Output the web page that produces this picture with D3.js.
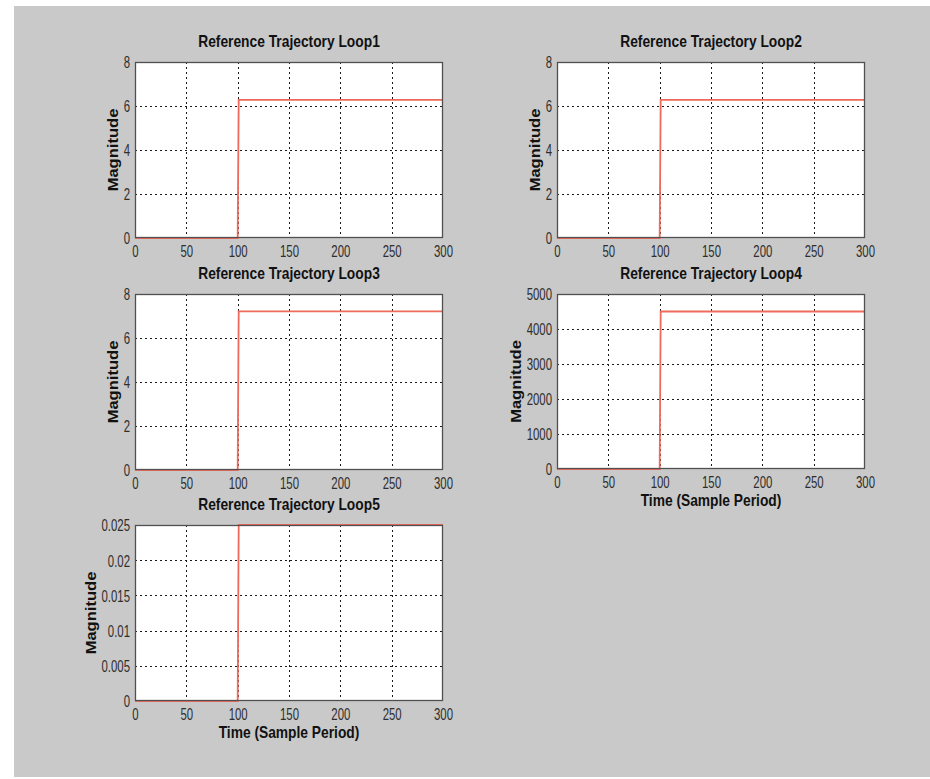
<!DOCTYPE html>
<html>
<head>
<meta charset="utf-8">
<script src="https://cdn.jsdelivr.net/npm/d3@7"></script>
<style>
  html, body { margin: 0; padding: 0; background: #ffffff; }
  svg { display: block; }
</style>
</head>
<body>
<svg id="chart" width="930" height="779"></svg>
<script>
// ---------------- data ----------------
const titles = ["Reference Trajectory Loop1", "Reference Trajectory Loop2", "Reference Trajectory Loop3",
                "Reference Trajectory Loop4", "Reference Trajectory Loop5"];
const time = [0, 100, 101, 300];                 // sample period
const loop1 = [0, 0, 6.28, 6.28];
const loop2 = [0, 0, 6.28, 6.28];
const loop3 = [0, 0, 7.21, 7.21];
const loop4 = [0, 0, 4500, 4500];
const loop5 = [0, 0, 0.025, 0.025];
const xTicks = [0, 50, 100, 150, 200, 250, 300];
const yTicks1 = [0, 2, 4, 6, 8];
const yTicks2 = [0, 2, 4, 6, 8];
const yTicks3 = [0, 2, 4, 6, 8];
const yTicks4 = [0, 1000, 2000, 3000, 4000, 5000];
const yTicks5 = [0, 0.005, 0.01, 0.015, 0.02, 0.025];
const yTickLabels5 = ["0", "0.005", "0.01", "0.015", "0.02", "0.025"];
const yLabel = "Magnitude";
const xLabel = "Time (Sample Period)";

// ---------------- layout ----------------
const panels = [
  { title: titles[0], values: loop1, yTicks: yTicks1, yFmt: d => String(d), left: 135, top: 62, w: 308, h: 176, xlab: false },
  { title: titles[1], values: loop2, yTicks: yTicks2, yFmt: d => String(d), left: 557, top: 62, w: 308, h: 176, xlab: false },
  { title: titles[2], values: loop3, yTicks: yTicks3, yFmt: d => String(d), left: 135, top: 294, w: 308, h: 176, xlab: false },
  { title: titles[3], values: loop4, yTicks: yTicks4, yFmt: d => String(d), left: 557, top: 294, w: 308, h: 175, xlab: true },
  { title: titles[4], values: loop5, yTicks: yTicks5, yFmt: (d, i) => yTickLabels5[i], left: 135, top: 525, w: 308, h: 176, xlab: true }
];

const svg = d3.select("#chart");
svg.append("rect").attr("x", 14).attr("y", 6).attr("width", 916).attr("height", 771).attr("fill", "#c9c9c9");

const tickFont = "Liberation Sans, Arial, sans-serif";
const labelFont = "Liberation Sans, Arial, sans-serif";

panels.forEach(p => {
  const g = svg.append("g").attr("transform", `translate(${p.left},${p.top})`);
  const x = d3.scaleLinear().domain([0, 300]).range([0, p.w]);
  const yMax = p.yTicks[p.yTicks.length - 1];
  const y = d3.scaleLinear().domain([0, yMax]).range([p.h, 0]);

  g.append("rect").attr("width", p.w).attr("height", p.h).attr("fill", "#ffffff");

  // grid
  g.append("g").selectAll("line.gx").data(xTicks.slice(1, -1)).join("line")
    .attr("x1", d => Math.round(x(d)) + 0.5).attr("x2", d => Math.round(x(d)) + 0.5)
    .attr("y1", 0).attr("y2", p.h)
    .attr("stroke", "#1a1a1a").attr("stroke-width", 1).attr("stroke-dasharray", "2,3");
  g.append("g").selectAll("line.gy").data(p.yTicks.slice(1, -1)).join("line")
    .attr("y1", d => Math.round(y(d)) + 0.5).attr("y2", d => Math.round(y(d)) + 0.5)
    .attr("x1", 0).attr("x2", p.w)
    .attr("stroke", "#1a1a1a").attr("stroke-width", 1).attr("stroke-dasharray", "2,3");

  // data line
  const line = d3.line().x((d, i) => x(time[i])).y(d => y(d));
  g.append("path").datum(p.values).attr("d", line)
    .attr("fill", "none").attr("stroke", "#f06a5c").attr("stroke-width", 1.8);

  // frame
  g.append("rect").attr("x", 0.5).attr("y", 0.5).attr("width", p.w - 1).attr("height", p.h - 1)
    .attr("fill", "none").attr("stroke", "#505050").attr("stroke-width", 1.3);

  // x axis
  const xa = g.append("g").attr("transform", `translate(0,${p.h})`)
    .call(d3.axisBottom(x).tickValues(xTicks).tickSize(0).tickFormat(d => String(d)));
  xa.select(".domain").remove();
  xa.selectAll("text")
    .attr("y", 0).attr("dy", null)
    .attr("transform", "translate(0,18.5) scale(0.95,1.35)")
    .attr("font-family", tickFont).attr("font-size", 12).attr("fill", "#2e2e2e");

  // y axis
  const ya = g.append("g")
    .call(d3.axisLeft(y).tickValues(p.yTicks).tickSize(0).tickFormat(p.yFmt));
  ya.select(".domain").remove();
  ya.selectAll("text")
    .attr("x", 0).attr("dy", null).attr("y", 0)
    .attr("transform", "translate(-5,5.8) scale(0.95,1.35)")
    .attr("text-anchor", "end")
    .attr("font-family", tickFont).attr("font-size", 12).attr("fill", "#2e2e2e");
  let maxW = 0;
  ya.selectAll("text").each(function () { maxW = Math.max(maxW, this.getBBox().width * 0.95); });

  // title
  g.append("text")
    .attr("transform", `translate(${p.w / 2},${-15}) scale(1,1.15)`)
    .attr("text-anchor", "middle")
    .attr("font-family", labelFont).attr("font-weight", "bold").attr("font-size", 13.8)
    .attr("fill", "#111").text(p.title);

  // y label
  g.append("text")
    .attr("transform", `translate(${-5 - maxW - 5},${p.h / 2}) rotate(-90) scale(1.2,1)`)
    .attr("text-anchor", "middle")
    .attr("font-family", labelFont).attr("font-weight", "bold").attr("font-size", 13.8)
    .attr("fill", "#111").text(yLabel);

  // x label
  if (p.xlab) {
    g.append("text")
      .attr("transform", `translate(${p.w / 2},${p.h + 37}) scale(1,1.15)`)
      .attr("text-anchor", "middle")
      .attr("font-family", labelFont).attr("font-weight", "bold").attr("font-size", 13.8)
      .attr("fill", "#111").text(xLabel);
  }
});
</script>
</body>
</html>
